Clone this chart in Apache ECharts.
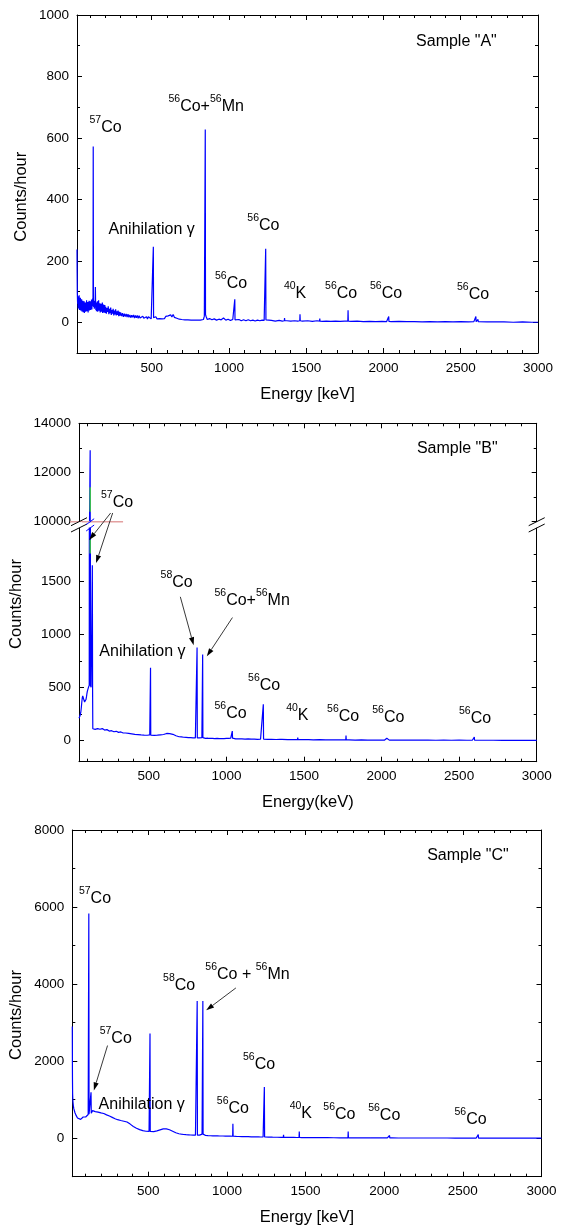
<!DOCTYPE html>
<html><head><meta charset="utf-8">
<script src="https://cdn.jsdelivr.net/npm/echarts@6/dist/echarts.min.js"></script>
<style>html,body{margin:0;padding:0;background:#fff}#c{width:562px;height:1228px}</style>
</head><body><div id="c"></div>
<script>
// ---------------- DATA ----------------
const xTickLabels = [500,1000,1500,2000,2500,3000];
const xMinorTicks = [100,200,300,400,600,700,800,900,1100,1200,1300,1400,1600,1700,1800,1900,2100,2200,2300,2400,2600,2700,2800,2900];
const yLabelsA = [0,200,400,600,800,1000];
const yMinorA = [100,300,500,700,900];
const yLabelsBu = [10000,12000,14000];
const yMinorBu = [11000,13000];
const yLabelsBl = [0,500,1000,1500];
const yMinorBl = [250,750,1250,1750];
const yLabelsC = [0,2000,4000,6000,8000];
const yMinorC = [1000,3000,5000,7000];

// Sample A: continuum [keV, counts/hour]
const bgA = [
[17,237],[18,160],[19,95],[21,60],[23,85],[25,45],[27,78],[29,52],[31,88],[33,40],[35,72],[37,55],[39,80],[41,38],[43,66],[45,50],[47,75],[49,35],[51,62],[53,48],[55,70],[57,33],[59,58],[61,45],[63,68],[65,30],[67,55],[69,42],[71,64],[73,34],[75,58],[77,40],[79,72],[81,36],[83,60],[85,44],[87,66],[89,32],[91,56],[93,46],[95,70],[97,38],[99,62],[101,44],[103,68],[105,40],[107,58],[109,48],[111,74],[113,42],[115,62],[117,52],[119,78],
[125,50],[127,70],[129,44],[131,66],[133,48],
[139,40],[141,64],[143,36],[145,58],[147,44],[149,68],[151,34],[153,56],[155,42],[157,72],[159,38],[161,54],[163,46],[165,62],[167,32],[169,56],[171,40],[173,60],[175,34],[177,52],[179,44],[181,64],[183,30],[185,50],[187,40],[189,58],[191,32],[193,48],[195,38],[197,56],[199,30],
[203,50],[207,28],[211,46],[215,34],[219,52],[223,26],[227,44],[231,30],[235,48],[239,24],[243,40],[247,28],[251,44],[255,22],[259,38],[263,26],[267,42],[271,22],[275,36],[279,24],[283,38],[287,20],[291,34],[295,22],[299,32],
[305,20],[311,30],[317,18],[323,28],[329,19],[335,27],[341,17],[347,26],[353,16],[359,24],[365,15],[371,23],[377,16],[383,24],[389,14],[395,22],[401,15],[407,22],[413,13],[419,21],[425,14],[431,20],[437,12],[443,20],[449,13],[455,19],[461,12],[467,18],[473,11],[479,18],[485,12],[491,17],[497,11],[503,16],
[519,12],[527,18],[535,11],[543,17],[551,12],[559,18],[567,11],[575,17],[583,12],[591,19],[599,13],[607,21],[615,15],[623,24],[631,17],[639,25],[647,16],[655,22],[663,13],[671,18],[679,10],[687,14],[695,9],[705,13],[715,8],[725,12],[735,8],[745,12],[755,7],[765,11],[775,7],[785,11],[795,7],[805,10],[815,7],[825,10],[835,9],[841,20],
[853,18],[860,9],[875,12],[890,8],[905,11],[920,7],[935,10],[950,8],[965,14],[980,7],[995,10],[1010,6],[1025,9],
[1050,6],[1065,9],[1080,5],[1095,8],[1110,5],[1125,8],[1140,5],[1155,7],[1170,4],[1185,7],[1200,5],[1215,7],[1228,6],
[1250,5],[1275,6],[1300,4],[1325,6],[1345,4],[1375,5],[1400,4],[1425,5],[1445,4],
[1475,4],[1510,5],[1540,3],[1570,5],[1605,3],[1630,4],[1660,3],[1690,4],[1720,3],[1750,4],
[1790,3],[1830,4],[1870,2],[1910,3],[1950,2],[1990,3],[2020,2],
[2050,2],[2100,3],[2150,2],[2200,2],[2250,1],[2300,2],[2350,1],[2400,2],[2450,1],[2500,2],[2550,1],[2585,2],[2605,2],
[2625,1],[2670,1],[2720,1],[2780,1],[2840,0],[2900,1],[2960,0],[3000,0]
];
// peaks: [keV, base, top]
const peaksA = [[122,60,572],[136,55,115],[511,15,246],[847,25,627],[1038,8,75],[1238,8,239],[1360,5,14],[1460,5,26],[1588,4,12],[1771,4,39],[2034,3,19],[2598,2,19],[2612,2,9]];

// Sample B
const bgB = [
[50,210],[53,218],[56,230],[59,245],[62,270],[65,310],[68,360],[71,400],[74,420],[77,410],[80,390],[83,372],[86,362],[89,360],[92,368],[95,385],[98,410],[101,440],[104,465],[107,480],[110,495],[113,510],[116,520],[119,520],
[128,500],
[139,110],[142,95],[146,100],[150,92],[154,105],[158,98],[162,108],[166,100],[170,112],[175,104],[180,115],[185,105],[190,118],[195,108],[200,112],[205,100],[210,110],[215,98],[220,106],[225,95],[230,102],[235,92],[240,98],[245,88],[250,95],[255,85],[260,92],[265,84],[270,90],[275,82],[280,88],[285,80],[290,86],[295,78],[300,84],[305,76],[310,82],[315,74],[320,80],[325,72],[330,78],[335,70],[340,75],[345,68],[350,70],[360,64],[370,66],[380,60],[390,62],[400,56],[410,58],[420,53],[430,55],[440,50],[450,52],[460,48],[470,50],[480,47],[490,49],[500,48],[506,52],
[516,55],[525,50],[535,48],[545,52],[555,50],[565,55],[575,53],[585,58],[595,56],[605,62],[615,66],[625,60],[635,65],[645,62],[655,58],[665,50],[675,44],[685,38],[695,35],[710,33],[725,30],[740,29],[755,27],[770,26],[785,25],[800,24],
[817,22],[826,24],[836,30],[842,26],
[853,22],[865,20],[880,21],[895,19],[910,20],[925,18],[940,19],[955,17],[970,18],[985,17],[1000,19],[1015,20],[1028,22],
[1045,16],[1060,15],[1080,14],[1100,15],[1120,13],[1140,14],[1160,12],[1180,13],[1200,11],[1220,12],[1232,13],
[1245,11],[1265,10],[1290,11],[1320,9],[1345,10],[1370,9],[1395,8],[1420,9],[1445,8],
[1475,7],[1500,8],[1530,7],[1560,6],[1600,7],[1640,6],[1680,5],[1720,6],[1750,5],
[1790,5],[1830,4],[1870,5],[1910,4],[1950,4],[1990,4],[2020,4],
[2050,3],[2090,4],[2130,3],[2170,3],[2210,4],[2250,3],[2300,3],[2350,2],[2400,3],[2450,2],[2500,3],[2550,2],[2585,2],
[2615,2],[2660,2],[2720,2],[2780,1],[2840,2],[2900,1],[2960,1],[3000,1]
];
const peaksB = [[122,520,12900],[136,500,1650],[511,50,685],[811,24,874],[847,26,808],[1038,22,88],[1238,13,340],[1360,10,22],[1460,8,28],[1771,5,47],[2034,4,20],[2598,2,31]];
const greenUpperB = [[122,10400],[122,11400]];
const greenLowerB = [[122,1760],[122,1890]];

// Sample C
const bgC = [
[17,2900],[18,1600],[19,1150],[21,950],[24,830],[27,760],[30,710],[34,660],[38,620],[42,585],[46,550],[50,525],[54,505],[58,490],[62,480],[66,478],[70,488],[74,505],[78,522],[82,538],[86,550],[90,556],[94,552],[98,548],[102,550],[106,560],[110,575],[114,595],[118,615],
[129,650],
[141,690],[146,715],[151,720],[157,705],[163,690],[169,680],[175,672],[181,678],[187,665],[193,668],[199,655],[205,645],[211,650],[217,640],[223,625],[229,615],[235,605],[241,598],[247,588],[253,575],[259,562],[265,552],[271,540],[277,528],[283,515],[289,505],[295,495],[305,480],[315,468],[325,458],[335,448],[345,440],[355,432],[365,420],[375,395],[385,365],[395,335],[405,305],[415,280],[425,258],[435,238],[445,222],[455,208],[465,196],[475,186],[485,180],[495,176],[505,175],
[517,170],[525,168],[535,172],[545,180],[555,190],[565,202],[575,215],[585,228],[595,240],[605,246],[615,242],[625,232],[635,218],[645,200],[655,180],[665,158],[675,140],[685,126],[695,115],[710,104],[725,96],[740,90],[755,86],[770,82],[785,80],[800,78],
[817,75],[826,78],[836,92],[842,105],
[853,75],[865,70],[880,66],[895,63],[910,61],[925,59],[940,58],[955,57],
[975,56],[990,54],[1005,52],[1020,51],[1030,50],
[1045,47],[1060,46],[1075,44],[1095,42],[1115,40],[1135,38],[1155,36],[1167,35],
[1183,34],[1200,33],[1215,31],[1230,30],
[1245,29],[1265,28],[1290,26],[1320,24],[1345,22],[1375,21],[1400,20],[1425,19],[1445,18],
[1475,16],[1500,16],[1530,15],[1560,14],[1600,13],[1640,12],[1680,11],[1720,10],[1755,10],
[1790,9],[1830,8],[1870,8],[1910,7],[1950,7],[1990,6],[2020,6],
[2050,6],[2090,5],[2130,5],[2170,5],[2210,5],[2250,4],[2300,4],[2350,4],[2400,4],[2450,3],[2500,3],[2550,3],[2585,3],
[2615,3],[2660,3],[2720,2],[2780,2],[2840,2],[2900,2],[2960,1],[3000,1]
];
const peaksC = [[122,620,5830],[136,650,1190],[511,175,2720],[811,78,3560],[847,105,3560],[965,57,95],[1038,50,373],[1175,35,70],[1238,30,1326],[1360,22,87],[1460,18,173],[1771,10,173],[2034,6,70],[2598,3,95]];

// annotations: [rich text, keV, counts]
const annA = [
 ['{m|Sample "A"}', 2211, 912],
 ['{s|57}{m|Co}', 98, 633],
 ['{s|56}{m|Co+}{s|56}{m|Mn}', 609, 701],
 ['{m|Anihilation γ}', 221, 300],
 ['{s|56}{m|Co}', 1119, 313],
 ['{s|56}{m|Co}', 910, 123],
 ['{s|40}{m|K}', 1356, 93],
 ['{s|56}{m|Co}', 1622, 91],
 ['{s|56}{m|Co}', 1913, 91],
 ['{s|56}{m|Co}', 2476, 89]
];
const annB = [
 ['{m|Sample "B"}', 2228, 12955, 'u'],
 ['{s|57}{m|Co}', 192, 10772, 'u'],
 ['{s|58}{m|Co}', 576, 1484, 'l'],
 ['{s|56}{m|Co+}{s|56}{m|Mn}', 923, 1311, 'l'],
 ['{m|Anihilation γ}', 181, 833, 'l'],
 ['{s|56}{m|Co}', 1140, 516, 'l'],
 ['{s|56}{m|Co}', 923, 252, 'l'],
 ['{s|40}{m|K}', 1385, 226, 'l'],
 ['{s|56}{m|Co}', 1649, 220, 'l'],
 ['{s|56}{m|Co}', 1940, 214, 'l'],
 ['{s|56}{m|Co}', 2499, 205, 'l']
];
const arrowsB = [[254,10354,'u',116,1887,'l'],[267,10354,'u',160,1670,'l'],[703,1352,'l',789,896,'l'],[1039,1157,'l',874,792,'l']];
const annC = [
 ['{m|Sample "C"}', 2273, 7332],
 ['{s|57}{m|Co}', 59, 6206],
 ['{s|57}{m|Co}', 191, 2566],
 ['{s|58}{m|Co}', 594, 3944],
 ['{s|56}{m|Co + }{s|56}{m|Mn}', 863, 4230],
 ['{m|Anihilation γ}', 184, 876],
 ['{s|56}{m|Co}', 1102, 1890],
 ['{s|56}{m|Co}', 936, 764],
 ['{s|40}{m|K}', 1399, 634],
 ['{s|56}{m|Co}', 1613, 590],
 ['{s|56}{m|Co}', 1898, 564],
 ['{s|56}{m|Co}', 2447, 478]
];
const arrowsC = [[241,2405,154,1240],[1057,3900,868,3320]];

// ---------------- CHART ----------------
const FONT = '"Liberation Sans", Arial, sans-serif';
const BLUE = '#0000ff';

function spectrum(bg, peaks){
  const pts = bg.map(p=>[p[0],p[1]]);
  peaks.forEach(([e,b,t])=>{ pts.push([e-1.5,b],[e,t],[e+1.5,b]); });
  pts.sort((a,b)=>a[0]-b[0]);
  return pts;
}

const grids = [
 {left:77, top:15, width:461, height:338},
 {left:79, top:423.3, width:457.7, height:98.4},
 {left:79, top:528, width:457.7, height:233.7},
 {left:72.3, top:830, width:469.2, height:346.7}
];
const xAxes=[], yAxes=[];
function ax(list, gi, min, max, pos, ticks, len, labels, line, extra){
  list.push(Object.assign({
    type:'value', gridIndex:gi, min:min, max:max, position:pos,
    splitLine:{show:false},
    axisLine:{show:line, onZero:false, lineStyle:{color:'#000', width:1}},
    axisTick:{show:true, inside:true, length:len, customValues:ticks, lineStyle:{color:'#000', width:1}},
    axisLabel: labels ? {show:true, customValues:labels, formatter:v=>String(v), margin:8, fontSize:13.5, color:'#000', fontFamily:FONT} : {show:false}
  }, extra||{}));
  return list.length-1;
}
function panel(gi, xmin, xmax, ymin, ymax, yLab, yMin, opt){
  const r = {};
  if(opt.bottom){
    r.xb = ax(xAxes, gi, xmin, xmax, 'bottom', xTickLabels, 5, xTickLabels, true,
      opt.xname ? {name:opt.xname, nameLocation:'middle', nameGap:opt.nameGap, nameTextStyle:{fontSize:16.5, fontFamily:FONT, color:'#000'}} : {});
    ax(xAxes, gi, xmin, xmax, 'bottom', xMinorTicks, 3, null, false);
  }
  if(opt.top){
    r.xt = ax(xAxes, gi, xmin, xmax, 'top', xTickLabels, 5, null, true);
    ax(xAxes, gi, xmin, xmax, 'top', xMinorTicks, 3, null, false);
  }
  r.yl = ax(yAxes, gi, ymin, ymax, 'left', yLab, 5, yLab, true);
  ax(yAxes, gi, ymin, ymax, 'left', yMin, 3, null, false);
  ax(yAxes, gi, ymin, ymax, 'right', yLab, 5, null, true);
  ax(yAxes, gi, ymin, ymax, 'right', yMin, 3, null, false);
  return r;
}
const pA = panel(0, 17, 3000, -100, 1000, yLabelsA, yMinorA, {bottom:true, top:true, xname:'Energy [keV]', nameGap:33});
const pBu = panel(1, 50, 3000, 10000, 14000, yLabelsBu, yMinorBu, {bottom:false, top:true});
const pBl = panel(2, 50, 3000, -200, 2000, yLabelsBl, yMinorBl, {bottom:true, top:false, xname:'Energy(keV)', nameGap:32});
const pC = panel(3, 17, 3000, -1000, 8000, yLabelsC, yMinorC, {bottom:true, top:true, xname:'Energy [keV]', nameGap:32});

const dataA = spectrum(bgA, peaksA), dataB = spectrum(bgB, peaksB), dataC = spectrum(bgC, peaksC);
function line(xi, yi, data, color, w){
  return {type:'line', xAxisIndex:xi, yAxisIndex:yi, data:data, showSymbol:false, symbol:'none', clip:true,
    lineStyle:{color:color, width:w||1.2}, itemStyle:{color:color}, animation:false, silent:true};
}
const series = [
  line(pA.xb, pA.yl, dataA, BLUE),
  line(pBu.xt, pBu.yl, dataB, BLUE),
  line(pBl.xb, pBl.yl, dataB, BLUE),
  line(pC.xb, pC.yl, dataC, BLUE),
  line(pBu.xt, pBu.yl, greenUpperB, '#3ccf3c', 1.4),
  line(pBl.xb, pBl.yl, greenLowerB, '#3ccf3c', 1.4)
];

const chart = echarts.init(document.getElementById('c'), null, {renderer:'canvas'});
chart.setOption({
  animation:false,
  backgroundColor:'#fff',
  textStyle:{fontFamily:FONT},
  grid: grids.map(g=>Object.assign({containLabel:false, outerBoundsMode:'none'}, g)),
  xAxis: xAxes, yAxis: yAxes, series: series
});

// ---------------- ANNOTATIONS ----------------
const RICH = {
  s:{fontSize:10.5, fontFamily:FONT, fill:'#000', verticalAlign:'bottom', padding:[0,0,10,0]},
  m:{fontSize:16, fontFamily:FONT, fill:'#000', verticalAlign:'bottom'}
};
function px(si, e, v){ return chart.convertToPixel({seriesIndex:si}, [e, v]); }
const gfx = [];
function label(text, p){
  const hasSup = text.indexOf('{s|')>=0;
  gfx.push({type:'text', x:p[0], y:p[1] + (hasSup ? -3 : 0), z:100,
    style:{text:text, rich:RICH, align:'left', verticalAlign:'middle', fill:'#000', fontSize:16, fontFamily:FONT}});
}
function arrow(p, q){
  const a = Math.atan2(q[1]-p[1], q[0]-p[0]), L=8, W=2.6;
  const bx = q[0]-L*Math.cos(a), by = q[1]-L*Math.sin(a);
  gfx.push({type:'line', z:100, shape:{x1:p[0],y1:p[1],x2:bx,y2:by}, style:{stroke:'#222', lineWidth:0.9}});
  gfx.push({type:'polygon', z:100, shape:{points:[[q[0],q[1]],[bx+W*Math.sin(a), by-W*Math.cos(a)],[bx-W*Math.sin(a), by+W*Math.cos(a)]]}, style:{fill:'#000'}});
}
annA.forEach(a=>label(a[0], px(0, a[1], a[2])));
annB.forEach(a=>label(a[0], px(a[3]==='u'?1:2, a[1], a[2])));
arrowsB.forEach(a=>arrow(px(a[2]==='u'?1:2, a[0], a[1]), px(a[5]==='u'?1:2, a[3], a[4])));
annC.forEach(a=>label(a[0], px(3, a[1], a[2])));
arrowsC.forEach(a=>arrow(px(3, a[0], a[1]), px(3, a[2], a[3])));

// y axis titles
[[21, 196.7],[16.5, 604],[16, 1015]].forEach(p=>{
  gfx.push({type:'text', x:p[0], y:p[1], rotation:Math.PI/2, z:100,
    style:{text:'Counts/hour', align:'center', verticalAlign:'middle', fontSize:16.5, fontFamily:FONT, fill:'#000'}});
});

// axis break decorations (panel B)
const gU = grids[1], gL = grids[2];
const yBreakU = gU.top + gU.height, yBreakL = gL.top;
[gU.left, gU.left + gU.width].forEach(x=>{
  gfx.push({type:'rect', z:99, shape:{x:x-3, y:yBreakU+0.5, width:6, height:yBreakL-yBreakU-1}, style:{fill:'#fff'}});
  gfx.push({type:'line', z:100, shape:{x1:x-8,y1:yBreakU+4,x2:x+8,y2:yBreakU-4}, style:{stroke:'#000', lineWidth:1}});
  gfx.push({type:'line', z:100, shape:{x1:x-8,y1:yBreakL+4,x2:x+8,y2:yBreakL-4}, style:{stroke:'#000', lineWidth:1}});
});
const pk = px(1, 122, 10000);
gfx.push({type:'line', z:100, shape:{x1:pk[0]-4,y1:yBreakU+3,x2:pk[0]+4,y2:yBreakU-3}, style:{stroke:BLUE, lineWidth:1}});
gfx.push({type:'line', z:100, shape:{x1:pk[0]-4,y1:yBreakL+3,x2:pk[0]+4,y2:yBreakL-3}, style:{stroke:BLUE, lineWidth:1}});
const pinkEnd = px(1, 334, 10000);
gfx.push({type:'line', z:98, shape:{x1:gU.left-9,y1:pinkEnd[1],x2:pinkEnd[0],y2:pinkEnd[1]}, style:{stroke:'#e3a0a0', lineWidth:1.5}});

chart.setOption({graphic: gfx});
</script></body></html>
